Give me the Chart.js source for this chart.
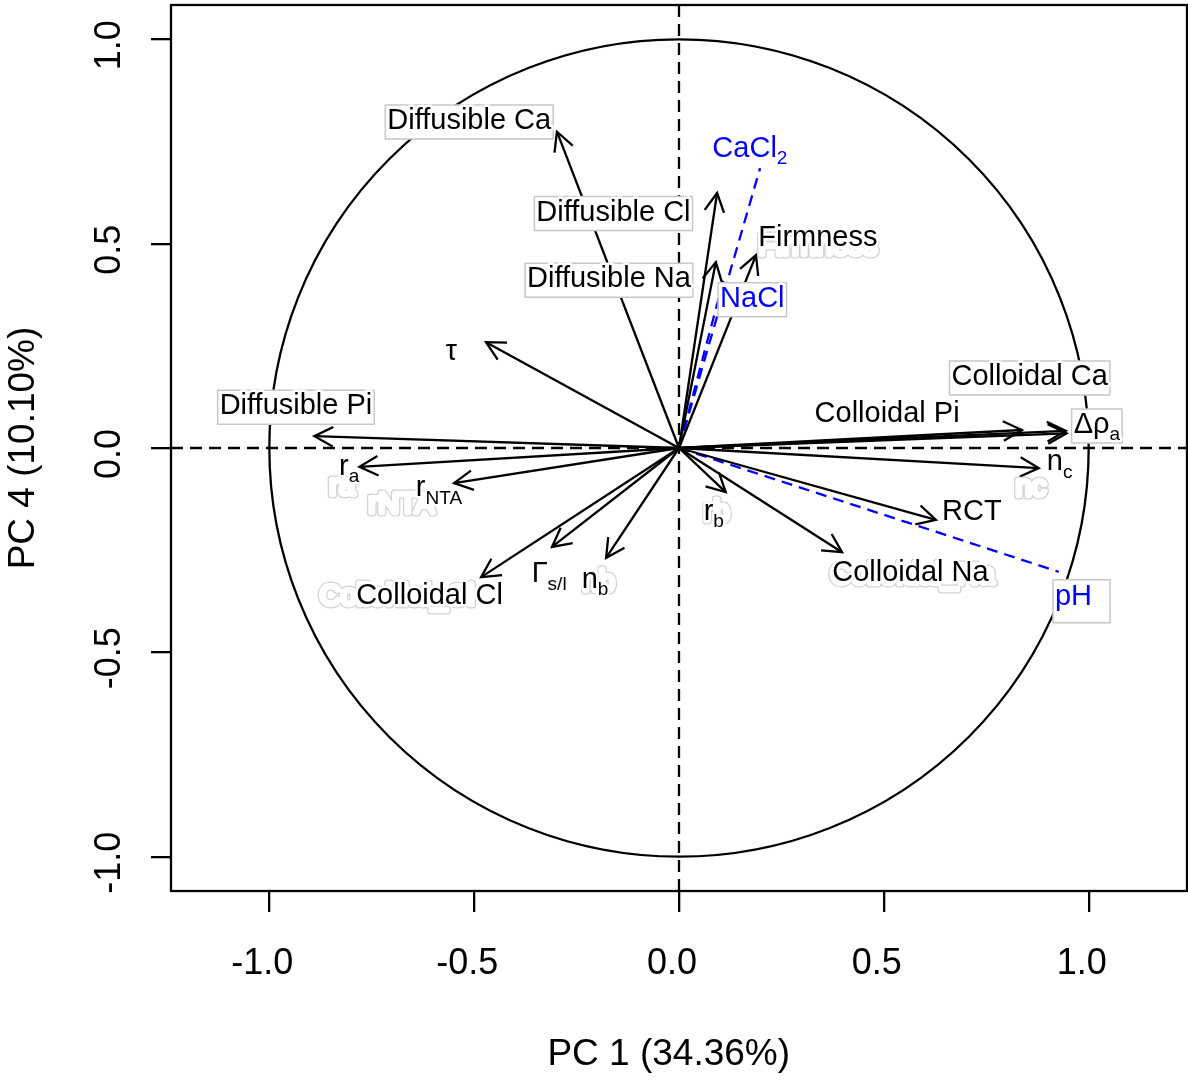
<!DOCTYPE html>
<html>
<head>
<meta charset="utf-8">
<script src="https://cdn.jsdelivr.net/npm/chart.js@4.4.1/dist/chart.umd.min.js"></script>
<style>
  body { margin: 0; background: #fff; }
  #wrap { width: 1188px; height: 1080px; }
</style>
</head>
<body>
<div id="wrap"><canvas id="myChart"></canvas></div>
<script>
// active variables (PC1, PC4 coordinates)
const varNames = ['Diffusible Ca', 'Diffusible Cl', 'Diffusible Na', 'Firmness', 'τ', 'Diffusible Pi',
    'r_a', 'r_NTA', 'Γ_s/l', 'n_b', 'Colloidal Cl', 'Colloidal Pi', 'Colloidal Ca', 'Δρ_a',
    'n_c', 'RCT', 'Colloidal Na', 'r_b'];
const varPC1 = [-0.298, 0.093, 0.090, 0.188, -0.471, -0.890, -0.780, -0.549, -0.310, -0.178,
    -0.483, 0.837, 0.946, 0.944, 0.878, 0.627, 0.398, 0.114];
const varPC4 = [0.774, 0.624, 0.455, 0.472, 0.259, 0.029, -0.046, -0.086, -0.242, -0.269,
    -0.316, 0.044, 0.036, 0.042, -0.049, -0.176, -0.255, -0.108];

// supplementary variables (blue dashed)
const suppNames = ['CaCl_2', 'NaCl', 'pH'];
const suppPC1 = [0.198, 0.110, 0.927];
const suppPC4 = [0.685, 0.416, -0.303];

const xTicks = [-1, -0.5, 0, 0.5, 1];
const yTicks = [-1, -0.5, 0, 0.5, 1];

// where each label sits (data units, centre of text)
const labelAt = {
    'Diffusible Ca': [-0.512, 0.800],
    'Diffusible Cl': [-0.160, 0.576],
    'Diffusible Na': [-0.171, 0.413],
    'Firmness': [0.339, 0.515],
    'τ': [-0.556, 0.234],
    'Diffusible Pi': [-0.935, 0.102],
    'r_a': [-0.805, -0.047],
    'r_NTA': [-0.586, -0.099],
    'Γ_s/l': [-0.317, -0.309],
    'n_b': [-0.205, -0.323],
    'Colloidal Cl': [-0.609, -0.362],
    'Colloidal Pi': [0.508, 0.084],
    'Colloidal Ca': [0.856, 0.174],
    'Δρ_a': [1.020, 0.056],
    'n_c': [0.929, -0.035],
    'RCT': [0.715, -0.157],
    'Colloidal Na': [0.565, -0.305],
    'r_b': [0.085, -0.157],
    'CaCl_2': [0.173, 0.732],
    'NaCl': [0.179, 0.365],
    'pH': [0.963, -0.365]
};
const boxed = ['Diffusible Ca', 'Diffusible Cl', 'Diffusible Na', 'Diffusible Pi', 'Colloidal Ca', 'Δρ_a', 'NaCl', 'pH'];

// faint outlined leftovers of repelled labels
const ghostText = ['Colloidal_Cl', 'Firmness', 'nc', 'ra', 'rNTA', 'Colloidal_Na', 'nb', 'rb'];
const ghostAt = [[-0.688, -0.365], [0.339, 0.493], [0.859, -0.098], [-0.822, -0.095], [-0.678, -0.140],
    [0.570, -0.312], [-0.196, -0.330], [0.092, -0.160]];

const FONT = '"Liberation Sans", Arial, Helvetica, sans-serif';
const BLUE = '#0000ff';
const LAB = 29, SUB = 19;

const datasets = [];
varNames.forEach((name, i) => {
    datasets.push({
        label: name,
        data: [{ x: 0, y: 0 }, { x: varPC1[i], y: varPC4[i] }],
        showLine: true,
        borderColor: '#000',
        borderWidth: 2.3,
        pointRadius: 0,
        arrow: true
    });
});
suppNames.forEach((name, i) => {
    datasets.push({
        label: name,
        data: [{ x: 0, y: 0 }, { x: suppPC1[i], y: suppPC4[i] }],
        showLine: true,
        borderColor: BLUE,
        borderWidth: 2.3,
        borderDash: [11, 7],
        pointRadius: 0,
        supp: true
    });
});

function drawLabel(ctx, text, px, py, color, hasBox) {
    const parts = text.split('_');
    const main = parts[0];
    const sub = parts[1] || '';
    ctx.font = LAB + 'px ' + FONT;
    const w1 = ctx.measureText(main).width;
    ctx.font = SUB + 'px ' + FONT;
    const w2 = sub ? ctx.measureText(sub).width : 0;
    const w = w1 + w2;
    const left = px - w / 2;
    if (hasBox) {
        const tall = text === 'pH';
        const h = tall ? 43 : 34;
        const top = py + 1 - h / 2 + (tall ? 3 : 0);
        const bw = w + (tall ? 20 : 4);
        ctx.fillStyle = '#fff';
        ctx.fillRect(left - 2, top, bw, h);
        ctx.strokeStyle = '#c8c8c8';
        ctx.lineWidth = 1.5;
        ctx.strokeRect(left - 2, top, bw, h);
    }
    ctx.textAlign = 'left';
    ctx.textBaseline = 'middle';
    ctx.lineJoin = 'round';
    ctx.strokeStyle = '#fff';
    ctx.lineWidth = 5;
    ctx.fillStyle = color;
    ctx.font = LAB + 'px ' + FONT;
    ctx.strokeText(main, left, py);
    ctx.fillText(main, left, py);
    if (sub) {
        ctx.font = SUB + 'px ' + FONT;
        ctx.strokeText(sub, left + w1, py + 10);
        ctx.fillText(sub, left + w1, py + 10);
    }
}

const circlePlugin = {
    id: 'circlePlugin',
    beforeDatasetsDraw(chart) {
        const { ctx, chartArea: a, scales: { x, y } } = chart;
        const cx = x.getPixelForValue(0), cy = y.getPixelForValue(0);
        const rx = x.getPixelForValue(1) - cx, ry = cy - y.getPixelForValue(1);
        ctx.save();
        // frame
        ctx.strokeStyle = '#000';
        ctx.lineWidth = 2.3;
        ctx.strokeRect(a.left, a.top, a.right - a.left, a.bottom - a.top);
        // correlation circle
        ctx.beginPath();
        ctx.ellipse(cx, cy, rx, ry, 0, 0, Math.PI * 2);
        ctx.stroke();
        // dashed axes
        ctx.setLineDash([12, 7]);
        ctx.beginPath();
        ctx.moveTo(a.left, cy); ctx.lineTo(a.right, cy);
        ctx.moveTo(cx, a.top); ctx.lineTo(cx, a.bottom);
        ctx.stroke();
        ctx.restore();
    },
    afterDatasetsDraw(chart) {
        const { ctx, scales: { x, y } } = chart;
        ctx.save();
        ctx.strokeStyle = '#000';
        ctx.lineWidth = 2.3;
        chart.data.datasets.forEach((ds, i) => {
            if (!ds.arrow) return;
            const pts = chart.getDatasetMeta(i).data;
            const x0 = pts[0].x, y0 = pts[0].y, x1 = pts[1].x, y1 = pts[1].y;
            const ang = Math.atan2(y1 - y0, x1 - x0);
            const L = 21, A = Math.PI / 6.5;
            ctx.beginPath();
            ctx.moveTo(x1 - L * Math.cos(ang - A), y1 - L * Math.sin(ang - A));
            ctx.lineTo(x1, y1);
            ctx.lineTo(x1 - L * Math.cos(ang + A), y1 - L * Math.sin(ang + A));
            ctx.stroke();
        });
        // ghosts first (grey outline, white inside), real labels on top
        ctx.font = LAB + 'px ' + FONT;
        ctx.textAlign = 'center';
        ctx.textBaseline = 'middle';
        ctx.lineJoin = 'round';
        ghostText.forEach((t, i) => {
            const gx = x.getPixelForValue(ghostAt[i][0]), gy = y.getPixelForValue(ghostAt[i][1]);
            ctx.strokeStyle = '#d2d2d2';
            ctx.lineWidth = 7;
            ctx.strokeText(t, gx, gy);
            ctx.strokeStyle = '#fff';
            ctx.lineWidth = 4.5;
            ctx.strokeText(t, gx, gy);
            ctx.fillStyle = '#fff';
            ctx.fillText(t, gx, gy);
        });
        chart.data.datasets.forEach(ds => {
            const pos = labelAt[ds.label];
            if (!pos) return;
            drawLabel(ctx, ds.label, x.getPixelForValue(pos[0]), y.getPixelForValue(pos[1]),
                ds.supp ? BLUE : '#000', boxed.includes(ds.label));
        });
        ctx.restore();
    }
};

const ctx = document.getElementById('myChart').getContext('2d');
const myChart = new Chart(ctx, {
    type: 'scatter',
    data: { datasets: datasets },
    options: {
        responsive: true,
        maintainAspectRatio: false,
        animation: false,
        layout: { padding: { top: 5, right: 1, left: 0, bottom: 0 } },
        plugins: {
            legend: { display: false },
            tooltip: { enabled: false }
        },
        scales: {
            x: {
                type: 'linear',
                min: -1.24,
                max: 1.24,
                afterBuildTicks: s => { s.ticks = xTicks.map(v => ({ value: v })); },
                afterFit: s => { s.height = 189; s.paddingLeft = 0; s.paddingRight = 0; },
                ticks: {
                    font: { size: 36, family: FONT },
                    color: '#000',
                    padding: 30,
                    labelOffset: -7,
                    maxRotation: 0,
                    callback: v => v.toFixed(1)
                },
                grid: { drawOnChartArea: false, drawTicks: true, tickLength: 21, color: '#000', lineWidth: 2.3 },
                border: { display: false },
                title: {
                    display: true,
                    text: 'PC 1 (34.36%)  ',
                    font: { size: 37, family: FONT },
                    color: '#000',
                    padding: { top: 0, bottom: 3 }
                }
            },
            y: {
                type: 'linear',
                min: -1.084,
                max: 1.084,
                afterBuildTicks: s => { s.ticks = yTicks.map(v => ({ value: v })); },
                afterFit: s => { s.width = 171; s.paddingTop = 0; s.paddingBottom = 0; },
                ticks: {
                    font: { size: 36, family: FONT },
                    color: '#000',
                    padding: 10,
                    labelOffset: 6,
                    minRotation: 90,
                    maxRotation: 90,
                    crossAlign: 'center',
                    callback: v => v.toFixed(1)
                },
                grid: { drawOnChartArea: false, drawTicks: true, tickLength: 20, color: '#000', lineWidth: 2.3 },
                border: { display: false },
                title: {
                    display: true,
                    text: 'PC 4 (10.10%)',
                    font: { size: 37, family: FONT },
                    color: '#000',
                    padding: { top: 2, bottom: 0 }
                }
            }
        }
    },
    plugins: [circlePlugin]
});
</script>
</body>
</html>
